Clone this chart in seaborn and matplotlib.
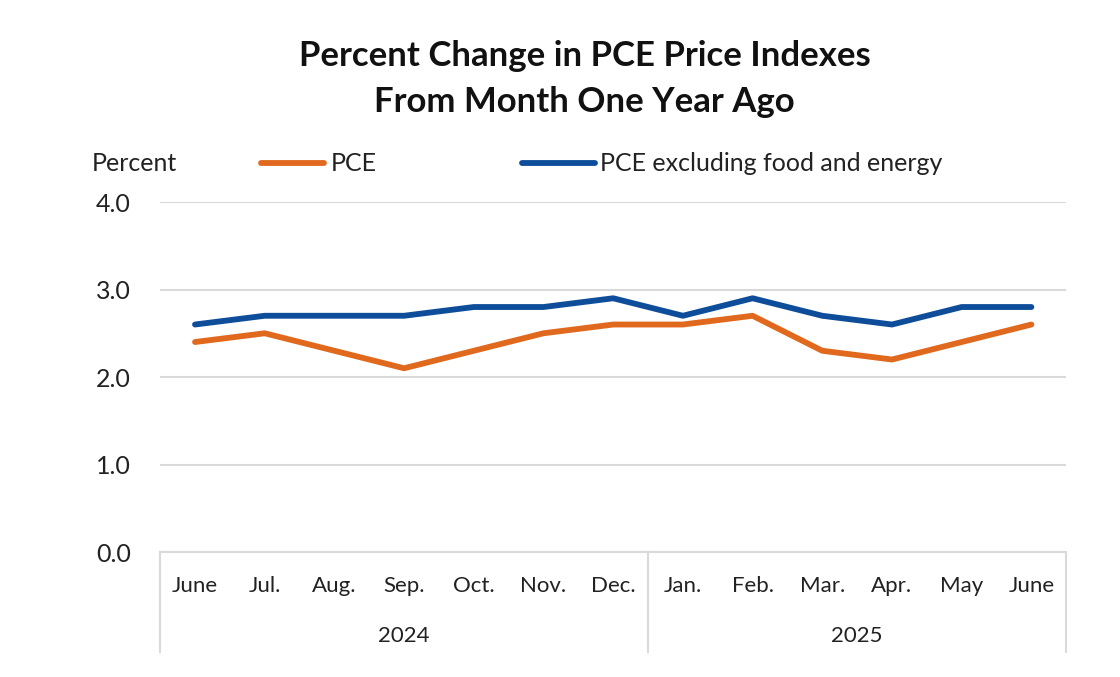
import matplotlib
matplotlib.use("Agg")
import matplotlib.pyplot as plt
import seaborn as sns
import pandas as pd
import numpy as np

months = ["June", "Jul.", "Aug.", "Sep.", "Oct.", "Nov.", "Dec.",
          "Jan.", "Feb.", "Mar.", "Apr.", "May", "June"]
years = ["2024", "2025"]
year_counts = [7, 6]
pce = [2.4, 2.5, 2.3, 2.1, 2.3, 2.5, 2.6, 2.6, 2.7, 2.3, 2.2, 2.4, 2.6]
core = [2.6, 2.7, 2.7, 2.7, 2.8, 2.8, 2.9, 2.7, 2.9, 2.7, 2.6, 2.8, 2.8]
series_names = ["PCE", "PCE excluding food and energy"]
yticks = [0.0, 1.0, 2.0, 3.0, 4.0]

sns.set_style("white")
plt.rcParams["font.family"] = ["Lato", "DejaVu Sans"]

idx = np.arange(len(months))
df = pd.DataFrame({
    "x": np.concatenate([idx, idx]),
    "value": pce + core,
    "series": [series_names[0]] * len(pce) + [series_names[1]] * len(core),
})

fig = plt.figure(figsize=(11.2, 6.77), dpi=100)
ax = fig.add_axes([0.143, 0.1846, 0.809, 0.517])
palette = {series_names[0]: "#E0691E", series_names[1]: "#0E4D99"}
sns.lineplot(data=df, x="x", y="value", hue="series", palette=palette,
             linewidth=4.2, ax=ax, legend=False, solid_capstyle="round")

ax.set_xlim(-0.5, len(months) - 0.5)
ax.set_ylim(0, 4)
ax.set_yticks(yticks)
ax.set_yticklabels([f"{v:.1f}" for v in yticks], fontsize=18, color="#222222")
ax.yaxis.grid(True, color="#D9D9D9", linewidth=1.5)
ax.set_axisbelow(True)
ax.tick_params(axis="y", length=0, pad=21)
ax.set_xticks(idx)
ax.set_xticklabels(months, fontsize=16, color="#222222")
ax.tick_params(axis="x", length=0, pad=17)
ax.set_xlabel("")
ax.set_ylabel("")
for s in ["top", "right", "left"]:
    ax.spines[s].set_visible(False)
ax.spines["bottom"].set_color("#D9D9D9")
ax.spines["bottom"].set_linewidth(1.5)

# year group separators
trans = ax.get_xaxis_transform()
bounds = [-0.5]
for c in year_counts:
    bounds.append(bounds[-1] + c)
for b in bounds:
    ax.plot([b, b], [0, -0.286], transform=trans, color="#D9D9D9",
            linewidth=1.5, clip_on=False)
start = -0.5
for y, c in zip(years, year_counts):
    ax.text(start + c / 2, -0.24, y, transform=trans, ha="center", va="center",
            fontsize=16, color="#222222")
    start += c

# title
fig.text(0.522, 0.918, "Percent Change in PCE Price Indexes", ha="center",
         va="center", fontsize=25, fontweight="bold", color="#111111")
fig.text(0.522, 0.849, "From Month One Year Ago", ha="center",
         va="center", fontsize=25, fontweight="bold", color="#111111")

# legend row
ly = 0.759
fig.text(0.082, ly, "Percent", ha="left", va="center", fontsize=18, color="#222222")
fig.add_artist(plt.Line2D([0.233, 0.289], [ly, ly], transform=fig.transFigure,
                          color=palette[series_names[0]], linewidth=4.2,
                          solid_capstyle="round"))
fig.text(0.295, ly, series_names[0], ha="left", va="center", fontsize=18, color="#222222")
fig.add_artist(plt.Line2D([0.466, 0.531], [ly, ly], transform=fig.transFigure,
                          color=palette[series_names[1]], linewidth=4.2,
                          solid_capstyle="round"))
fig.text(0.536, ly, series_names[1], ha="left", va="center", fontsize=18, color="#222222")

fig.savefig("out.png", dpi=100, facecolor="white")
